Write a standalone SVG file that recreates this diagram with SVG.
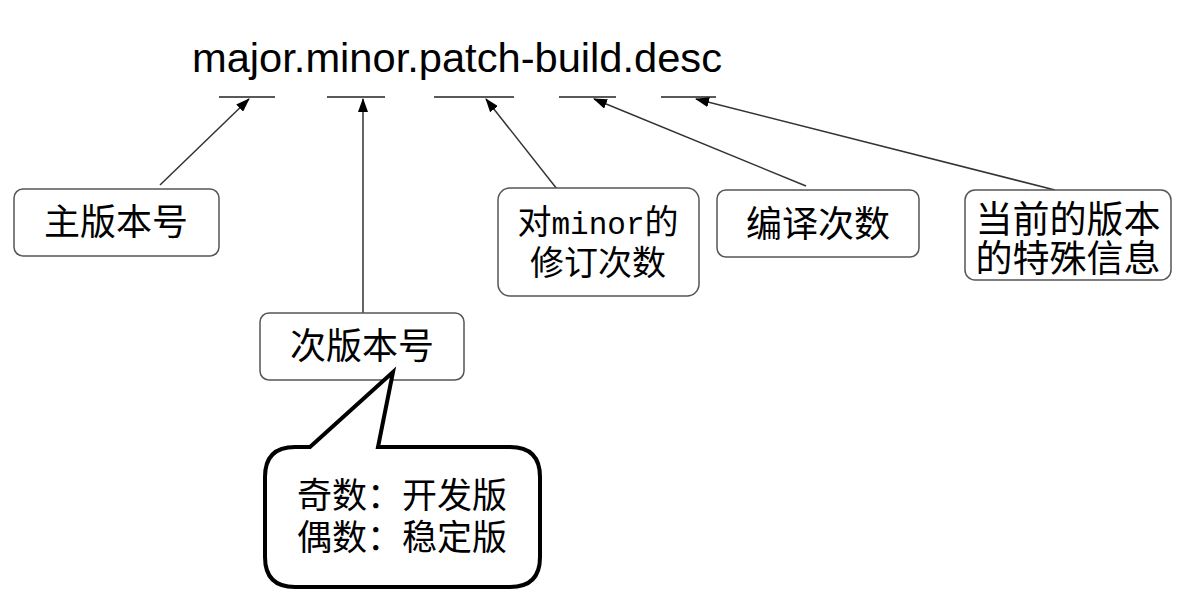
<svg xmlns="http://www.w3.org/2000/svg" width="1197" height="606" viewBox="0 0 1197 606">
<style>
.box{fill:#fff;stroke:#555;stroke-width:1.5}
.t{font-family:"Noto Sans CJK SC","Noto Sans",sans-serif;fill:#000;text-anchor:middle}
.u{stroke:#222;stroke-width:1.5}
.c{stroke:#333;stroke-width:1.5;fill:none;marker-end:url(#ah)}
</style>
<defs>
<marker id="ah" markerUnits="userSpaceOnUse" markerWidth="14" markerHeight="10" refX="13" refY="5" orient="auto">
<path d="M0,0 L14,5 L0,10 Z" fill="#000"/>
</marker>
</defs>
<rect width="1197" height="606" fill="#fff"/>
<g id="title">
<text x="192" y="72" font-family="Liberation Sans, Arial, sans-serif" font-size="41" textLength="530" lengthAdjust="spacingAndGlyphs" fill="#000">major.minor.patch-build.desc</text>
<line class="u" x1="219" y1="97" x2="275" y2="97"/>
<line class="u" x1="327" y1="97" x2="385" y2="97"/>
<line class="u" x1="434" y1="97" x2="514" y2="97"/>
<line class="u" x1="559" y1="97" x2="616" y2="97"/>
<line class="u" x1="661" y1="97" x2="716" y2="97"/>
</g>
<g id="connectors">
<line class="c" x1="160" y1="185" x2="249" y2="99"/>
<line class="c" x1="363" y1="313" x2="363" y2="99"/>
<line class="c" x1="557" y1="189" x2="486" y2="99"/>
<line class="c" x1="806" y1="186" x2="594" y2="99"/>
<line class="c" x1="1055" y1="190" x2="696" y2="99"/>
</g>
<g id="major">
<rect class="box" x="14" y="189" width="205" height="67" rx="9"/>
<text class="t" x="116" y="235" font-size="36">主版本号</text>
</g>
<g id="minor">
<rect class="box" x="260" y="313" width="204" height="67" rx="9"/>
<text class="t" x="362" y="359" font-size="36">次版本号</text>
</g>
<g id="patch">
<rect class="box" x="498" y="188" width="201" height="108" rx="12"/>
<text class="t" x="598" y="234" font-size="34">对<tspan font-family="Liberation Mono, monospace" font-size="31">minor</tspan>的</text>
<text class="t" x="598" y="275" font-size="34">修订次数</text>
</g>
<g id="build">
<rect class="box" x="717" y="190" width="202" height="67" rx="9"/>
<text class="t" x="818" y="237" font-size="36">编译次数</text>
</g>
<g id="desc">
<rect class="box" x="965" y="190" width="206" height="90" rx="10"/>
<text class="t" x="1068" y="233" font-size="37">当前的版本</text>
<text class="t" x="1068" y="272" font-size="37">的特殊信息</text>
</g>
<g id="note">
<path d="M295,447 L310,447 L393,372 L378,447 L510,447 Q540,447 540,477 L540,557 Q540,587 510,587 L295,587 Q265,587 265,557 L265,477 Q265,447 295,447 Z" fill="#fff" stroke="#000" stroke-width="4" stroke-linejoin="miter"/>
<text class="t" x="402" y="508" font-size="35">奇数：开发版</text>
<text class="t" x="402" y="550" font-size="35">偶数：稳定版</text>
</g>
</svg>
